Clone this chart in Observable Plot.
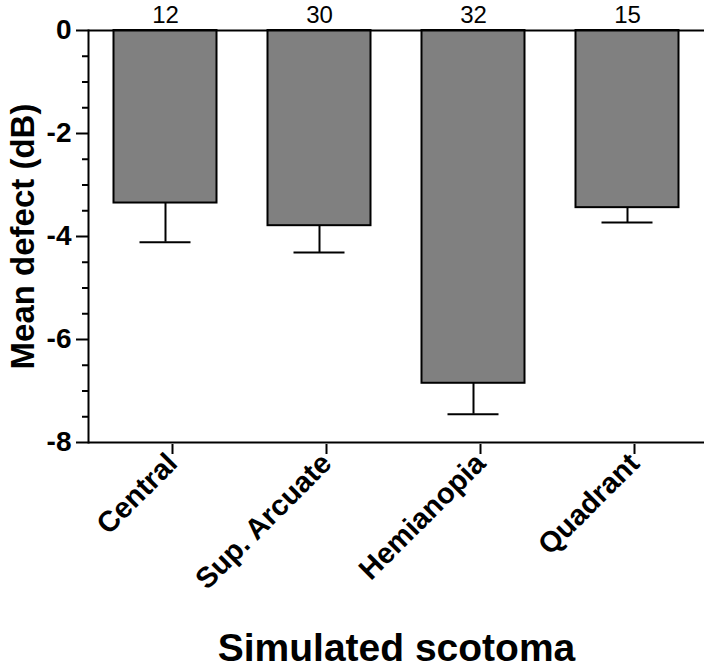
<!DOCTYPE html>
<html><head><meta charset="utf-8">
<script src="https://cdn.jsdelivr.net/npm/d3@7"></script>
<script src="https://cdn.jsdelivr.net/npm/@observablehq/plot@0.6"></script>
<style>body{margin:0;background:#fff}</style>
</head><body><div id="chart"></div>
<script>
const categories = ["Central", "Sup. Arcuate", "Hemianopia", "Quadrant"];
const means = [-3.35, -3.79, -6.85, -3.44];
const errorLows = [-4.11, -4.31, -7.45, -3.73];
const counts = [12, 30, 32, 15];
const yTicks = [0, -2, -4, -6, -8];
const yMinorTicks = [-0.5, -1, -1.5, -2.5, -3, -3.5, -4.5, -5, -5.5, -6.5, -7, -7.5];
const yTitle = "Mean defect (dB)";
const xTitle = "Simulated scotoma";

const data = categories.map((c, i) => ({cat: c, mean: means[i], lo: errorLows[i], n: counts[i]}));

const chart = Plot.plot({
  width: 707, height: 672,
  marginLeft: 88, marginRight: 3, marginTop: 30, marginBottom: 230,
  style: {fontFamily: "'Liberation Sans', Arial, sans-serif", background: "#fff", color: "#000"},
  x: {domain: categories, padding: 0, label: null},
  y: {domain: [-8, 0], label: null},
  marks: [
    Plot.barY(data, {x: "cat", y: "mean", fill: "#808080", stroke: "#000", strokeWidth: 2, insetLeft: 25.5, insetRight: 25.5}),
    Plot.ruleX(data, {x: "cat", y1: "mean", y2: "lo", stroke: "#000", strokeWidth: 2}),
    Plot.tickY(data, {x: "cat", y: "lo", stroke: "#000", strokeWidth: 2, insetLeft: 51.5, insetRight: 51.5}),
    Plot.ruleY([0, -8], {stroke: "#000", strokeWidth: 2}),
    Plot.axisY({ticks: yMinorTicks, tickSize: 6, tickFormat: () => "", strokeWidth: 2, label: null}),
    Plot.axisY({ticks: yTicks, tickSize: 12, tickPadding: 5, tickFormat: d => String(d), fontSize: 28, fontWeight: "bold", strokeWidth: 2, label: null}),
    Plot.frame({anchor: "left", stroke: "#000", strokeWidth: 2}),
    Plot.axisX({tickSize: 10, tickRotate: -45, tickPadding: 4, dx: 7, dy: 2, fontSize: 29, fontWeight: "bold", strokeWidth: 2, label: null}),
    Plot.text(data, {x: "cat", y: 0, text: "n", dy: -8, lineAnchor: "bottom", fontSize: 24, fill: "#000"}),
    Plot.text([yTitle], {text: d => d, frameAnchor: "left", textAnchor: "middle", rotate: -90, dx: -55, lineAnchor: "bottom", fontSize: 33, fontWeight: "bold", fill: "#000"}),
    Plot.text([xTitle], {text: d => d, frameAnchor: "bottom", textAnchor: "middle", dy: 218, lineAnchor: "bottom", fontSize: 39, fontWeight: "bold", fill: "#000"})
  ]
});
document.getElementById("chart").appendChild(chart);
</script>
</body></html>
